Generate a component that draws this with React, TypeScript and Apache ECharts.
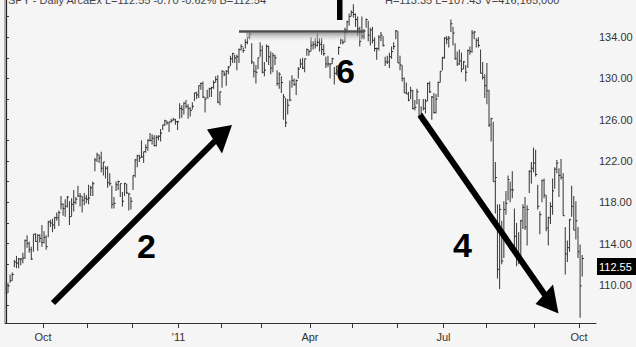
import React, { useEffect, useRef } from "react";
import * as echarts from "echarts";

// Daily bars, one small array per month: [high, low, close]
const sep10 = [[110.3,109.1,109.2],[110.2,109.2,109.9],[111.0,110.2,110.4],[111.2,110.4,111.0],[112.4,111.7,112.2],[112.8,111.6,112.1],[112.6,111.6,112.5],[112.6,111.9,112.5],[113.1,112.1,112.6],[114.4,112.5,114.3],[114.8,113.6,114.0],[114.2,113.1,113.4],[113.7,112.4,112.5],[114.9,113.2,114.9],[115.0,114.2,114.2],[114.9,113.3,114.8],[114.9,114.1,114.5],[115.8,113.7,114.1]];
const oct10 = [[115.2,114.0,114.6],[114.8,113.4,113.7],[116.2,114.6,116.1],[116.3,115.6,116.0],[116.4,115.1,115.8],[116.6,115.4,116.5],[117.0,116.2,116.5],[117.2,115.7,117.0],[118.6,117.3,117.8],[117.9,116.7,117.4],[118.3,116.6,117.6],[118.6,117.5,118.5],[118.1,115.8,116.6],[118.4,116.6,117.8],[119.2,117.1,118.0],[118.5,117.8,118.3],[119.6,118.5,118.6],[118.9,117.6,118.6],[118.6,117.0,118.2],[118.9,117.7,118.4],[118.7,117.9,118.3]];
const nov10 = [[119.7,117.8,118.4],[119.6,118.6,119.4],[120.0,118.6,119.8],[122.3,121.0,122.1],[122.8,121.9,122.6],[122.6,121.8,122.3],[122.9,120.9,121.3],[121.9,120.6,121.9],[121.5,120.3,121.3],[121.5,119.4,119.9],[120.8,119.6,119.8],[119.6,117.4,117.8],[118.5,117.4,117.9],[120.0,119.1,119.7],[120.1,119.2,120.0],[119.8,118.5,119.8],[119.0,117.6,118.1],[119.9,118.6,119.8],[119.8,118.8,118.9],[118.9,117.2,118.8],[118.5,117.3,118.1]];
const dec10 = [[120.6,119.2,120.6],[122.2,120.4,122.1],[122.6,121.4,122.5],[122.6,121.9,122.3],[124.0,122.3,122.4],[122.9,121.8,122.9],[123.6,122.8,123.3],[124.1,123.0,124.0],[124.7,123.9,124.0],[124.6,123.6,124.2],[124.5,123.4,123.5],[124.5,123.4,124.3],[124.5,124.0,124.4],[125.1,123.9,124.7],[125.5,125.0,125.5],[126.0,125.4,125.9],[125.9,125.5,125.7],[125.8,124.8,125.8],[126.1,125.7,125.9],[126.2,125.9,126.0],[126.1,125.5,125.8],[125.9,125.0,125.8]];
const jan11 = [[127.6,126.1,127.1],[127.4,126.2,127.0],[127.7,126.5,127.6],[127.9,127.1,127.3],[127.5,126.1,127.1],[127.2,126.3,126.9],[127.7,127.0,127.3],[128.6,127.8,128.6],[128.7,128.0,128.4],[129.3,128.1,129.3],[129.6,128.9,129.5],[129.7,128.1,128.2],[128.2,126.7,128.0],[128.9,128.1,128.1],[129.1,128.2,129.0],[129.2,128.2,129.1],[129.8,129.0,129.6],[130.2,129.6,129.9],[130.3,127.6,127.7],[128.7,127.4,128.7]];
const feb11 = [[130.8,129.1,130.7],[130.7,130.2,130.4],[130.8,129.3,130.7],[131.2,130.4,131.1],[132.2,131.2,131.9],[132.5,131.5,132.4],[132.3,131.5,132.0],[132.3,130.8,132.1],[132.9,131.5,132.8],[133.3,132.7,133.1],[133.0,132.5,132.7],[133.8,132.9,133.5],[134.0,133.3,134.0],[134.4,133.8,134.3],[133.4,131.4,131.6],[131.6,130.1,130.7],[131.3,129.5,130.6],[132.0,130.9,132.0],[133.5,132.1,132.7]];
const mar11 = [[133.2,130.5,130.6],[131.6,130.2,130.8],[133.3,131.6,133.1],[133.2,131.3,132.1],[132.6,130.4,131.0],[132.5,130.6,132.2],[132.3,131.3,132.0],[130.8,129.3,129.5],[130.6,129.0,130.4],[130.2,128.6,129.6],[128.5,126.0,128.2],[128.1,125.3,125.7],[128.0,126.5,127.4],[129.8,127.8,127.9],[130.3,129.1,129.8],[130.0,129.3,129.4],[129.9,128.4,129.8],[131.1,130.0,130.9],[131.9,131.0,131.4],[132.0,130.9,131.0],[131.9,130.6,131.9],[132.9,132.2,132.8],[132.8,132.2,132.6]];
const apr11 = [[134.0,132.6,133.2],[133.6,132.8,133.3],[133.9,132.9,133.2],[134.4,133.1,133.5],[133.9,132.6,133.3],[133.9,132.3,132.8],[133.3,132.2,132.4],[132.1,131.0,131.4],[132.2,131.1,131.4],[131.5,130.0,131.4],[132.0,131.4,131.9],[131.1,129.4,130.5],[131.2,130.3,131.2],[133.1,132.3,133.0],[133.9,133.3,133.7],[133.8,133.3,133.5],[134.9,133.5,134.7],[135.6,134.4,135.5],[136.3,135.1,136.0],[136.6,136.0,136.4]];
const may11 = [[137.2,135.9,136.2],[136.3,135.0,135.7],[136.0,134.1,134.8],[135.0,133.1,133.6],[136.0,133.8,134.1],[134.8,133.8,134.6],[135.8,134.9,135.7],[135.6,133.6,134.2],[134.9,133.2,134.7],[135.0,133.4,133.7],[134.0,132.6,132.9],[133.0,131.8,132.9],[134.2,132.7,134.0],[134.5,133.6,134.2],[134.1,133.1,133.2],[132.1,131.2,131.6],[132.2,131.4,131.6],[132.5,131.0,132.1],[133.1,131.9,132.6],[133.5,132.8,133.1],[134.7,133.8,134.6]];
const jun11 = [[134.6,131.5,131.5],[132.2,130.8,131.3],[131.3,129.7,130.0],[130.1,128.6,128.6],[129.6,128.5,128.5],[128.7,127.8,127.9],[129.2,128.0,128.8],[128.9,127.0,127.1],[127.9,126.9,127.2],[129.0,127.5,128.7],[128.0,126.3,126.4],[127.3,125.8,126.6],[128.0,126.9,127.1],[128.0,126.6,127.8],[129.6,127.8,129.5],[129.7,128.6,128.7],[128.3,126.0,128.2],[128.6,126.6,126.7],[128.5,126.6,128.0],[129.7,128.2,129.6],[130.7,129.6,130.7],[132.1,130.8,132.0]];
const jul11 = [[134.0,131.9,133.9],[134.1,133.3,133.8],[134.1,133.0,133.9],[135.7,134.5,135.3],[135.0,133.2,134.4],[133.4,131.8,131.9],[132.6,131.2,131.4],[132.8,131.3,131.7],[132.5,130.6,130.9],[131.7,130.9,131.6],[131.3,129.7,130.6],[132.8,131.0,132.7],[133.1,132.3,132.6],[134.7,132.5,134.4],[134.6,133.8,134.5],[133.9,133.0,133.7],[134.0,133.0,133.2],[132.8,130.5,130.5],[131.6,129.9,130.1],[130.4,128.1,129.3]];
const aug11 = [[131.5,127.5,128.8],[128.9,125.3,125.5],[126.2,123.9,126.1],[125.8,120.0,120.0],[121.9,116.9,120.4],[117.8,110.6,111.5],[117.8,109.6,117.3],[116.2,112.0,112.3],[118.1,112.6,117.3],[119.1,116.8,117.9],[120.6,118.2,120.2],[120.0,118.0,119.2],[121.0,118.4,119.2],[117.4,113.7,114.7],[116.0,111.8,112.6],[115.1,112.0,112.6],[116.3,112.5,116.2],[117.8,115.4,117.5],[118.5,115.3,115.6],[117.7,113.8,117.3],[121.1,118.9,121.0],[121.9,119.8,121.3],[123.3,120.9,121.8]];
const sep11 = [[123.1,120.5,120.7],[119.7,117.3,117.6],[117.1,114.9,116.8],[120.2,118.0,120.1],[120.3,118.4,118.7],[118.7,115.2,115.5],[116.6,113.8,116.5],[118.0,115.9,117.6],[120.3,116.8,119.1],[121.4,119.3,121.2],[122.1,120.8,121.8],[121.3,118.5,120.6],[122.2,120.2,120.4],[120.8,116.7,116.7],[115.6,111.0,113.0],[114.3,112.2,113.6],[116.4,113.2,116.3],[119.6,116.6,117.6],[118.6,115.3,115.3],[118.1,114.4,116.2],[115.6,112.6,113.2]];
const oct11 = [[113.9,106.8,109.9],[112.9,110.8,112.55]];

const months = [sep10, oct10, nov10, dec10, jan11, feb11, mar11, apr11, may11, jun11, jul11, aug11, sep11, oct11];
const monthTickLabels = ["", "Oct", "", "", "'11", "", "", "Apr", "", "", "Jul", "", "", "Oct"];
const priceLabels = [110, 114, 118, 122, 126, 130, 134];
const priceTicks = [108, 110, 112, 114, 116, 118, 120, 122, 124, 126, 128, 130, 132, 134, 136];
const lastPrice = "112.55";
const headerLeft = "SPY - Daily ArcaEx L=112.55 -0.70 -0.62% B=112.54";
const headerRight = "H=113.35 L=107.43 V=416,165,000";

const FONT = "'Liberation Sans', Arial, sans-serif";

export default function App() {
  const ref = useRef<HTMLDivElement>(null);
  useEffect(() => {
    if (!ref.current) return;
    const chart = echarts.init(ref.current, undefined, { renderer: "svg" });
    const data: number[][] = [];
    const boundaries: number[] = [];
    const boundaryLabel: Record<string, string> = {};
    let idx = 0;
    months.forEach((m, mi) => {
      if (mi > 0) {
        const b = idx - 0.5;
        boundaries.push(b);
        boundaryLabel[String(b)] = monthTickLabels[mi];
      }
      m.forEach((bar) => {
        data.push([idx, bar[0], bar[1], bar[2]]);
        idx++;
      });
    });
    const labelVals = boundaries.filter((b) => boundaryLabel[String(b)] !== "");

    chart.setOption({
      animation: false,
      backgroundColor: "#f5f5f5",
      grid: { left: 5, right: 40, top: 0, bottom: 24 },
      xAxis: {
        type: "value",
        min: -0.42,
        max: 278.5,
        axisLine: { show: true, lineStyle: { color: "#333", width: 1 } },
        axisTick: { show: true, length: 5, customValues: boundaries, lineStyle: { color: "#333" } },
        axisLabel: {
          show: true,
          customValues: labelVals,
          formatter: (v: number) => boundaryLabel[String(v)] ?? "",
          fontSize: 11,
          fontFamily: FONT,
          color: "#333",
          margin: 8,
        },
        splitLine: { show: false },
      },
      yAxis: {
        type: "value",
        position: "right",
        min: 106.3,
        max: 137.6,
        axisLine: { show: true, lineStyle: { color: "#222", width: 1.2 } },
        axisTick: { show: true, length: 3, customValues: priceTicks, lineStyle: { color: "#333" } },
        axisLabel: {
          show: true,
          customValues: priceLabels,
          formatter: (v: number) => v.toFixed(2),
          fontSize: 11,
          fontFamily: FONT,
          color: "#333",
          margin: 3,
        },
        splitLine: { show: false },
      },
      series: [
        {
          type: "custom",
          data,
          encode: { x: 0, y: [1, 2, 3] },
          clip: true,
          renderItem: (params: any, api: any) => {
            const x = api.value(0);
            const pH = api.coord([x, api.value(1)]);
            const pL = api.coord([x, api.value(2)]);
            const pC = api.coord([x, api.value(3)]);
            return {
              type: "group",
              children: [
                { type: "line", shape: { x1: pH[0], y1: pH[1], x2: pL[0], y2: pL[1] }, style: { stroke: "#444", lineWidth: 1.1 } },
                { type: "line", shape: { x1: pC[0], y1: pC[1], x2: pC[0] + 1.6, y2: pC[1] }, style: { stroke: "#222", lineWidth: 1 } },
              ],
            };
          },
        },
      ],
      graphic: [
        { type: "line", shape: { x1: 5, y1: 0, x2: 5, y2: 323 }, style: { stroke: "#9a9a9a", lineWidth: 1.5 }, z: 10 },
        { type: "text", x: 8, y: 5, style: { text: headerLeft, fontSize: 11, fontFamily: FONT, fill: "#444", verticalAlign: "bottom" }, z: 10 },
        { type: "text", x: 385, y: 5, style: { text: headerRight, fontSize: 11, fontFamily: FONT, fill: "#444", verticalAlign: "bottom" }, z: 10 },
        {
          type: "rect",
          shape: { x: 246, y: 33, width: 116, height: 8 },
          style: {
            fill: new echarts.graphic.LinearGradient(0, 0, 0, 1, [
              { offset: 0, color: "rgba(140,140,140,0.8)" },
              { offset: 1, color: "rgba(235,235,235,0.2)" },
            ]),
          },
          z: 9,
        },
        { type: "line", shape: { x1: 239, y1: 31.5, x2: 364, y2: 31.5 }, style: { stroke: "#4d4d4d", lineWidth: 2.5 }, z: 11 },
        { type: "rect", shape: { x: 337, y: 0, width: 5.5, height: 20 }, style: { fill: "#000" }, z: 12 },
        { type: "line", shape: { x1: 53, y1: 303, x2: 215, y2: 141 }, style: { stroke: "#000", lineWidth: 6 }, z: 12 },
        { type: "polygon", shape: { points: [[232, 125], [207, 129.5], [222, 153.5]] }, style: { fill: "#000" }, z: 12 },
        { type: "line", shape: { x1: 420, y1: 115, x2: 545, y2: 295 }, style: { stroke: "#000", lineWidth: 6 }, z: 12 },
        { type: "polygon", shape: { points: [[558.5, 313.5], [535.5, 304], [553, 284.5]] }, style: { fill: "#000" }, z: 12 },
        { type: "text", x: 146.5, y: 246, style: { text: "2", fontSize: 34, fontWeight: "bold", fontFamily: FONT, fill: "#000", align: "center", verticalAlign: "middle" }, z: 12 },
        { type: "text", x: 345.5, y: 70.5, style: { text: "6", fontSize: 34, fontWeight: "bold", fontFamily: FONT, fill: "#000", align: "center", verticalAlign: "middle" }, z: 12 },
        { type: "text", x: 462.5, y: 245, style: { text: "4", fontSize: 34, fontWeight: "bold", fontFamily: FONT, fill: "#000", align: "center", verticalAlign: "middle" }, z: 12 },
        { type: "rect", shape: { x: 597, y: 258, width: 39, height: 17 }, style: { fill: "#000" }, z: 12 },
        { type: "text", x: 599, y: 266.5, style: { text: lastPrice, fontSize: 11, fontFamily: FONT, fill: "#fff", verticalAlign: "middle" }, z: 13 },
      ],
    });
    return () => chart.dispose();
  }, []);
  return <div ref={ref} style={{ position: "absolute", left: 0, top: 0, width: 636, height: 347 }} />;
}
